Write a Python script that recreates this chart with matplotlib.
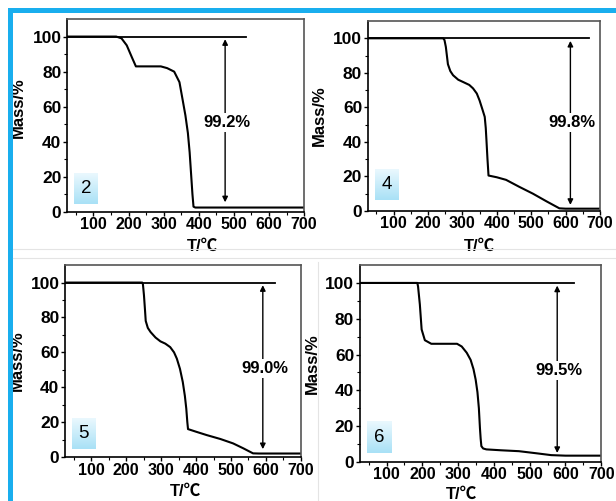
import numpy as np
import matplotlib
matplotlib.use("Agg")
import matplotlib.pyplot as plt
from matplotlib.patches import Rectangle
from matplotlib.lines import Line2D

plt.rcParams["font.family"] = ["Liberation Sans", "Noto Sans CJK SC", "DejaVu Sans"]

# TGA curves: temperature (C) and mass (%)
T_2 = [25, 165, 180, 195, 210, 221, 240, 292, 310, 330, 345, 354, 362, 369, 374, 378, 382, 385, 390, 700]
m_2 = [100, 100, 99, 95, 88, 83, 83, 83, 82, 80, 74, 64, 55, 45, 34, 22, 10, 3, 2.5, 2.5]

T_4 = [25, 244, 248, 252, 258, 265, 273, 288, 302, 320, 331, 342, 350, 358, 365, 368, 370, 373, 376, 400, 427, 465, 505, 545, 582, 600, 700]
m_4 = [100, 100, 99, 95, 85, 81, 78.6, 76, 74.7, 73, 71, 68, 64, 59, 54.5, 48, 41, 30, 20.5, 19.5, 18, 14, 10, 5.5, 1.5, 1.3, 1.3]

T_5 = [25, 246, 248, 251, 254, 256, 262, 270, 284, 298, 312, 326, 337, 345, 354, 362, 368, 372, 375, 377, 400, 430, 470, 506, 535, 563, 580, 700]
m_5 = [100, 100, 99, 92.6, 84, 78, 74, 71.6, 68.5, 66.3, 65, 63, 60, 56.4, 50.5, 43, 35, 27.8, 20, 16, 14.5, 12.6, 10.3, 7.8, 5, 2.1, 2, 2]

T_6 = [25, 186, 188, 190, 193, 198, 207, 225, 260, 297, 310, 324, 335, 343, 349, 354, 358, 361, 363, 365, 370, 379, 420, 470, 520, 560, 600, 700]
m_6 = [100, 100, 98, 94, 88, 74, 68, 66, 66, 66, 64.5, 61, 57, 51.8, 46, 39, 30, 18.9, 13, 8.8, 7.5, 7, 6.5, 6, 4.8, 3.8, 3.5, 3.5]

samples = ["2", "4", "5", "6"]
curves_T = [T_2, T_4, T_5, T_6]
curves_m = [m_2, m_4, m_5, m_6]
ref_end = [535, 667, 627, 623]      # end of the 100 % reference line
arrow_x = [475, 614, 591, 577]
arrow_lo = [5.5, 3.5, 4.5, 5.0]
loss_text = ["99.2%", "99.8%", "99.0%", "99.5%"]
x_ticks = [100, 200, 300, 400, 500, 600, 700]
y_ticks = [0, 20, 40, 60, 80, 100]

# layout (figure fractions) and label positions per panel
boxes = [
    [0.1088, 0.577, 0.385, 0.385],
    [0.597, 0.579, 0.377, 0.379],
    [0.1055, 0.0878, 0.383, 0.383],
    [0.584, 0.078, 0.392, 0.393],
]
ylab_pos = [(-0.175, 0.54), (-0.175, 0.5), (-0.17, 0.5), (-0.165, 0.5)]
xlab_pos = [(0.57, -0.14), (0.48, -0.145), (0.51, -0.14), (0.42, -0.125)]
tag_pos = [(0.03, 0.04), (0.03, 0.06), (0.03, 0.04), (0.03, 0.045)]

fig = plt.figure(figsize=(6.16, 5.01), dpi=100)

# blue frame and faint separators of the source slide
blue = "#19aeee"
fig.patches.append(Rectangle((8 / 616, 0), 5 / 616, 1 - 8 / 501, transform=fig.transFigure,
                             facecolor=blue, edgecolor="none"))
fig.patches.append(Rectangle((8 / 616, 1 - 13 / 501), 1, 5 / 501, transform=fig.transFigure,
                             facecolor=blue, edgecolor="none"))
fig.lines.append(Line2D([13 / 616, 1], [1 - 249 / 501, 1 - 249 / 501], transform=fig.transFigure,
                        color="#e4e4e4", lw=0.8))
fig.lines.append(Line2D([13 / 616, 1], [1 - 258 / 501, 1 - 258 / 501], transform=fig.transFigure,
                        color="#e4e4e4", lw=0.8))
fig.lines.append(Line2D([318 / 616, 318 / 616], [0, 1 - 262 / 501], transform=fig.transFigure,
                        color="#e4e4e4", lw=0.8))

grad = np.linspace(0, 1, 50).reshape(-1, 1)
tag_cmap = matplotlib.colors.LinearSegmentedColormap.from_list("tag", ["#eaf8fe", "#a9e1f6"])

for i in range(4):
    ax = fig.add_axes(boxes[i])
    ax.plot(curves_T[i], curves_m[i], color="black", lw=1.5)
    ax.plot([25, ref_end[i]], [100, 100], color="black", lw=1.3)
    ax.annotate("", xy=(arrow_x[i], 98.5), xytext=(arrow_x[i], arrow_lo[i]),
                arrowprops=dict(arrowstyle="<|-|>", color="black", lw=1.0,
                                mutation_scale=8, shrinkA=0, shrinkB=0))
    ax.text(arrow_x[i] + 5, 51, loss_text[i], ha="center", va="center", fontsize=12,
            fontweight="bold", bbox=dict(facecolor="white", edgecolor="none", pad=1.5))

    tx, ty = tag_pos[i]
    ax.imshow(grad, extent=(tx, tx + 0.1, ty, ty + 0.16), transform=ax.transAxes,
              cmap=tag_cmap, aspect="auto", zorder=3)
    ax.text(tx + 0.05, ty + 0.08, samples[i], transform=ax.transAxes, ha="center",
            va="center", fontsize=13.5, zorder=4)

    ax.set_xlim(25, 700)
    ax.set_ylim(0, 110)
    ax.set_xticks(x_ticks)
    ax.set_yticks(y_ticks)
    ax.set_xticks(np.arange(50, 701, 50), minor=True)
    ax.set_yticks(np.arange(10, 101, 10), minor=True)
    for lab in ax.get_xticklabels() + ax.get_yticklabels():
        lab.set_fontweight("bold")
    ax.tick_params(which="major", direction="out", length=3, width=1, pad=1)
    ax.tick_params(axis="x", labelsize=11.5)
    ax.tick_params(axis="y", labelsize=12.5)
    ax.tick_params(which="minor", direction="out", length=2, width=0.8)
    for side in ["left", "bottom"]:
        ax.spines[side].set_linewidth(1.2)
    for side in ["top", "right"]:
        ax.spines[side].set_color("#555555")
        ax.spines[side].set_linewidth(1.2)

    ax.set_ylabel("Mass/%", fontsize=12, fontweight="bold")
    ax.yaxis.set_label_coords(*ylab_pos[i])
    ax.set_xlabel("T/℃", fontsize=12, fontweight="bold")
    ax.xaxis.set_label_coords(*xlab_pos[i])

fig.savefig("out.png", dpi=100)
